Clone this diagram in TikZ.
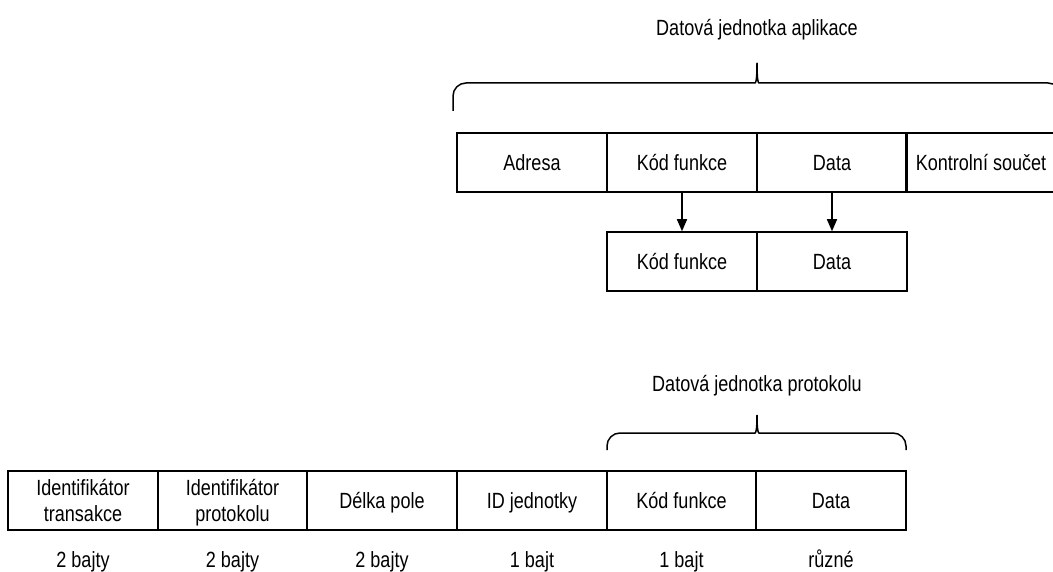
\documentclass[tikz,border=0pt]{standalone}
\usepackage{fontspec}
\setmainfont{Liberation Sans}[FakeStretch=0.82]
\usetikzlibrary{arrows.meta}
\newcommand{\cellfont}{\fontsize{22}{26}\selectfont}
\tikzset{
  cell/.style={draw, line width=1.5pt, minimum width=150pt, minimum height=59pt,
               inner sep=0pt, align=center, font=\cellfont,
               text height=15.75pt, text depth=0pt},
  twoline/.style={cell, text height=41.75pt},
  caption/.style={inner sep=0pt, font=\cellfont, anchor=base},
  link/.style={line width=1.5pt, -{Triangle[length=12pt,width=10pt]}},
  bracepath/.style={line width=1.5pt, rounded corners=13pt}
}
\begin{document}
\begin{tikzpicture}[x=1pt,y=-1pt]
\useasboundingbox (0,0) rectangle (1053,572);

% application data unit
\node[caption] (adulabel) at (757,36) {Datová jednotka aplikace};
\draw[bracepath] (453,111) -- (453,83) -- (742,83)
  .. controls (756,83) and (757,79) .. (757,63);
\draw[bracepath] (1061,111) -- (1061,83) -- (772,83)
  .. controls (758,83) and (757,79) .. (757,63);
\node[cell] (t1) at (532,162.5) {Adresa};
\node[cell] (t2) at (682,162.5) {Kód funkce};
\node[cell] (t3) at (832,162.5) {Data};
\node[cell] (t4) at (981,162.5) {Kontrolní součet};

% extracted protocol data unit
\node[cell] (m1) at (682,261.5) {Kód funkce};
\node[cell] (m2) at (832,261.5) {Data};
\draw[link] (t2.south) -- (m1.north);
\draw[link] (t3.south) -- (m2.north);

% protocol data unit brace
\node[caption] (pdulabel) at (757,391.5) {Datová jednotka protokolu};
\draw[bracepath] (607,450) -- (607,433) -- (742,433)
  .. controls (756,433) and (757,429) .. (757,415);
\draw[bracepath] (906,450) -- (906,433) -- (772,433)
  .. controls (758,433) and (757,429) .. (757,415);

% TCP frame
\node[twoline] (b1) at (83,500.5) {Identifikátor\\transakce};
\node[twoline] (b2) at (232.5,500.5) {Identifikátor\\protokolu};
\node[cell] (b3) at (382,500.5) {Délka pole};
\node[cell] (b4) at (532,500.5) {ID jednotky};
\node[cell] (b5) at (681.5,500.5) {Kód funkce};
\node[cell] (b6) at (831,500.5) {Data};

% field sizes
\node[caption] (s1) at (83,567) {2 bajty};
\node[caption] (s2) at (232.5,567) {2 bajty};
\node[caption] (s3) at (382,567) {2 bajty};
\node[caption] (s4) at (532,567) {1 bajt};
\node[caption] (s5) at (681.5,567) {1 bajt};
\node[caption] (s6) at (831,567) {různé};
\end{tikzpicture}
\end{document}
